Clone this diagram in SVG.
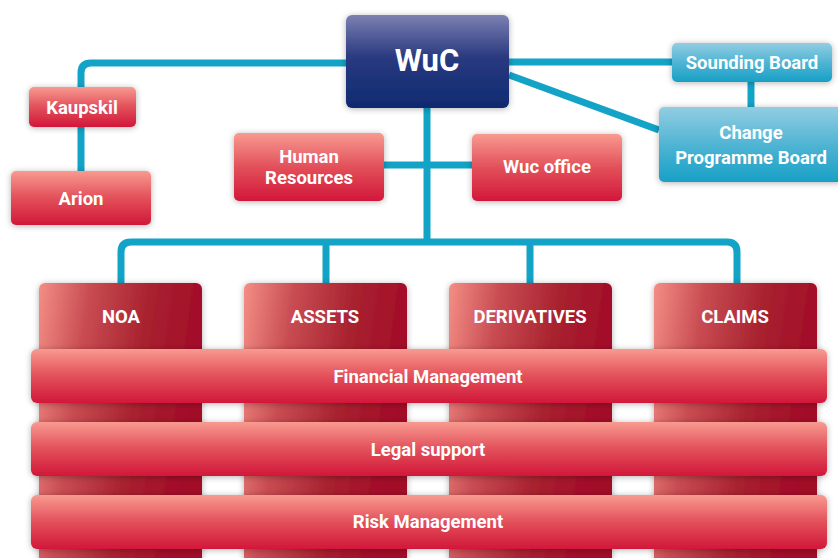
<svg xmlns="http://www.w3.org/2000/svg" width="838" height="558" viewBox="0 0 838 558">
  <defs>
    <linearGradient id="gNavy" x1="0" y1="0" x2="0" y2="1">
      <stop offset="0" stop-color="#7c80b2"/>
      <stop offset="0.45" stop-color="#2a3a80"/>
      <stop offset="1" stop-color="#0f2a70"/>
    </linearGradient>
    <linearGradient id="gRed" x1="0" y1="0" x2="0" y2="1">
      <stop offset="0" stop-color="#f89a90"/>
      <stop offset="0.5" stop-color="#e2505a"/>
      <stop offset="1" stop-color="#d2173a"/>
    </linearGradient>
    <linearGradient id="gBlue" x1="0" y1="0" x2="0" y2="1">
      <stop offset="0" stop-color="#92cde2"/>
      <stop offset="0.55" stop-color="#4ab2d2"/>
      <stop offset="1" stop-color="#17a0c6"/>
    </linearGradient>
    <linearGradient id="gCol" x1="0" y1="0" x2="1" y2="0.25">
      <stop offset="0" stop-color="#f48e85"/>
      <stop offset="0.3" stop-color="#c84c52"/>
      <stop offset="0.65" stop-color="#a8222f"/>
      <stop offset="1" stop-color="#a20a28"/>
    </linearGradient>
    <filter id="shadow" x="-20%" y="-20%" width="140%" height="140%">
      <feDropShadow dx="0" dy="1" stdDeviation="3" flood-color="#000" flood-opacity="0.3"/>
    </filter>
  </defs>
  <style>
    .conn { fill: none; stroke: #12a3c6; stroke-width: 7; }
    .navy { fill: url(#gNavy); filter: url(#shadow); }
    .red { fill: url(#gRed); filter: url(#shadow); }
    .blue { fill: url(#gBlue); filter: url(#shadow); }
    .col { fill: url(#gCol); filter: url(#shadow); }
    .band { fill: url(#gRed); filter: url(#shadow); }
    text { font-family: "Roboto", "Liberation Sans", sans-serif; font-weight: bold; fill: #ffffff; text-anchor: middle; }
    .t16 { font-size: 18.5px; }
    .t18 { font-size: 18.5px; }
    .big { font-size: 31px; }
  </style>

  <rect width="838" height="558" fill="#ffffff"/>

  <!-- connectors -->
  <g id="connectors">
    <path class="conn" d="M346,63 H91 Q81,63 81,73 V171"/>
    <path class="conn" d="M509,62 H672"/>
    <path class="conn" d="M509,75 L659,130"/>
    <path class="conn" d="M751,82 V107"/>
    <path class="conn" d="M384,165 H472"/>
    <path class="conn" d="M427,108 V242"/>
    <path class="conn" d="M121,283 V252 Q121,242 131,242 H727 Q737,242 737,252 V283"/>
    <path class="conn" d="M326,242 V283"/>
    <path class="conn" d="M530,242 V283"/>
  </g>

  <!-- business unit columns -->
  <g id="noa">
    <rect class="col" x="39" y="283" width="163" height="290" rx="6"/>
    <text class="t18" x="121" y="323">NOA</text>
  </g>
  <g id="assets">
    <rect class="col" x="244" y="283" width="163" height="290" rx="6"/>
    <text class="t18" x="325" y="323">ASSETS</text>
  </g>
  <g id="derivatives">
    <rect class="col" x="449" y="283" width="163" height="290" rx="6"/>
    <text class="t18" x="530" y="323">DERIVATIVES</text>
  </g>
  <g id="claims">
    <rect class="col" x="654" y="283" width="163" height="290" rx="6"/>
    <text class="t18" x="735" y="323">CLAIMS</text>
  </g>

  <!-- cross-cutting bands -->
  <g id="financial-management">
    <rect class="band" x="31" y="349" width="796" height="54" rx="6"/>
    <text class="t16" x="428" y="383">Financial Management</text>
  </g>
  <g id="legal-support">
    <rect class="band" x="31" y="422" width="796" height="54" rx="6"/>
    <text class="t16" x="428" y="456">Legal support</text>
  </g>
  <g id="risk-management">
    <rect class="band" x="31" y="495" width="796" height="54" rx="6"/>
    <text class="t16" x="428" y="528">Risk Management</text>
  </g>

  <!-- top level -->
  <g id="wuc">
    <rect class="navy" x="346" y="15" width="163" height="93" rx="6"/>
    <text class="big" x="427" y="71">WuC</text>
  </g>
  <g id="kaupskil">
    <rect class="red" x="29" y="87" width="107" height="40" rx="5"/>
    <text class="t16" x="82" y="114">Kaupskil</text>
  </g>
  <g id="arion">
    <rect class="red" x="11" y="171" width="140" height="54" rx="5"/>
    <text class="t16" x="81" y="205">Arion</text>
  </g>
  <g id="human-resources">
    <rect class="red" x="234" y="133" width="150" height="68" rx="5"/>
    <text class="t16" x="309" y="163">Human</text>
    <text class="t16" x="309" y="184">Resources</text>
  </g>
  <g id="wuc-office">
    <rect class="red" x="472" y="134" width="150" height="67" rx="5"/>
    <text class="t16" x="547" y="173">Wuc office</text>
  </g>
  <g id="sounding-board">
    <rect class="blue" x="672" y="43" width="160" height="39" rx="5"/>
    <text class="t16" x="752" y="69">Sounding Board</text>
  </g>
  <g id="change-programme-board">
    <rect class="blue" x="659" y="107" width="185" height="75" rx="5"/>
    <text class="t16" x="751" y="139">Change</text>
    <text class="t16" x="751" y="164">Programme Board</text>
  </g>
</svg>
